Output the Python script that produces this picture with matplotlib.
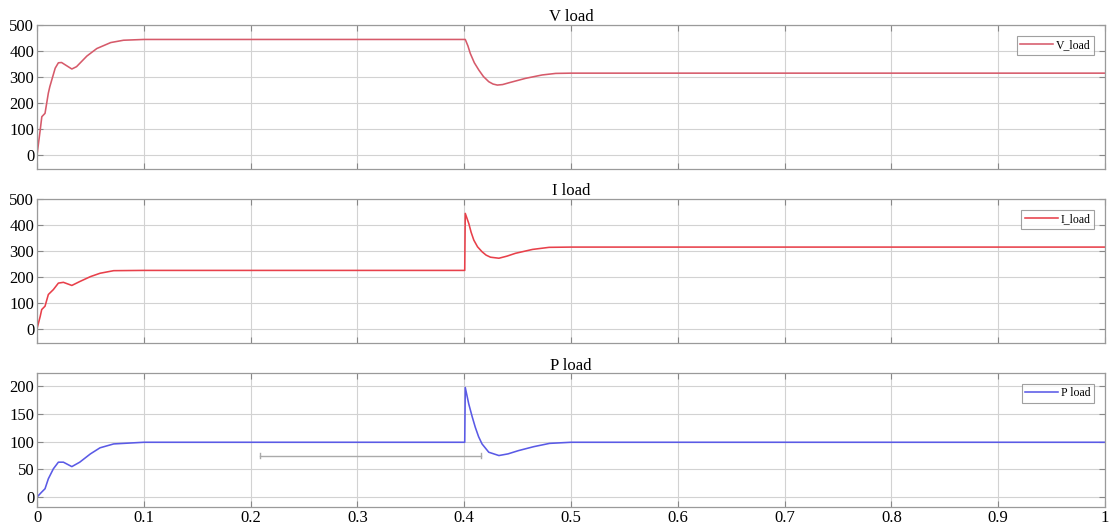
import matplotlib
matplotlib.use("Agg")
import matplotlib.pyplot as plt

# ---- data ----
v_t = [0.0, 0.003, 0.0045, 0.0075, 0.0106, 0.012, 0.017, 0.020, 0.023, 0.028, 0.0326, 0.037,
       0.0467, 0.056, 0.069, 0.081, 0.1, 0.401, 0.4035, 0.4057, 0.4095, 0.4137, 0.418, 0.423,
       0.427, 0.431, 0.436, 0.442, 0.4575, 0.473, 0.4857, 0.5, 1.0]
v_load = [0, 96, 147, 160, 238, 263, 334, 355, 356, 343, 331, 340,
          381, 410, 433, 442, 445, 445, 420, 391, 355, 327, 302, 282,
          273, 269, 271, 278, 295, 308, 314, 315, 315]

i_t = [0.0, 0.003, 0.0044, 0.0075, 0.0106, 0.0153, 0.020, 0.0247, 0.0326, 0.040, 0.050, 0.059,
       0.0718, 0.1, 0.4005, 0.401, 0.4043, 0.4065, 0.409, 0.4125, 0.4167, 0.4205, 0.4246,
       0.4325, 0.440, 0.448, 0.464, 0.4795, 0.5, 1.0]
i_load = [0, 48, 74, 87, 132, 151, 176, 179, 167, 182, 201, 214,
          224, 225, 225, 445, 406, 372, 342, 316, 297, 284, 276,
          272, 280, 291, 306, 314, 315, 315]

p_t = [0.0, 0.0044, 0.0075, 0.0106, 0.0153, 0.020, 0.0247, 0.0326, 0.040, 0.050, 0.059,
       0.0718, 0.1, 0.4005, 0.401, 0.4043, 0.4075, 0.4104, 0.4135, 0.4167, 0.423, 0.4325,
       0.441, 0.451, 0.465, 0.480, 0.5, 1.0]
p_load = [0, 9, 15, 33, 51, 63, 63, 55, 63, 78, 89,
          96, 99, 99, 198, 168, 145, 126, 109, 96, 81, 75,
          78, 84, 91, 97, 99, 99]

cursor_x = [0.209, 0.416]
cursor_y = 75

titles = ["V load", "I load", "P load"]
legend_labels = ["V_load", "I_load", "P load"]
x_ticks = [0, 0.1, 0.2, 0.3, 0.4, 0.5, 0.6, 0.7, 0.8, 0.9, 1.0]
x_tick_labels = ["0", "0.1", "0.2", "0.3", "0.4", "0.5", "0.6", "0.7", "0.8", "0.9", "1"]

plt.rcParams['font.family'] = ['Liberation Serif', 'DejaVu Serif']

fig = plt.figure(figsize=(11.15, 5.25), dpi=100)
L, W = 0.0332, 0.9578
ax1 = fig.add_axes([L, 0.678, W, 0.274])
ax2 = fig.add_axes([L, 0.3467, W, 0.274])
ax3 = fig.add_axes([L, 0.0343, W, 0.255])

series = [(ax1, v_t, v_load, '#d65a6a', (-55, 500), [0, 100, 200, 300, 400, 500]),
          (ax2, i_t, i_load, '#e8404a', (-55, 500), [0, 100, 200, 300, 400, 500]),
          (ax3, p_t, p_load, '#5a5ae6', (-18, 224), [0, 50, 100, 150, 200])]

for k, (ax, t, y, c, yl, yt) in enumerate(series):
    ax.plot(t, y, color=c, lw=1.15, label=legend_labels[k])
    ax.set_xlim(0, 1)
    ax.set_ylim(*yl)
    ax.set_yticks(yt)
    ax.set_xticks(x_ticks)
    if k < 2:
        ax.set_xticklabels([])
    else:
        ax.set_xticklabels(x_tick_labels)
    ax.grid(True, color='#d2d2d2', lw=0.8)
    ax.set_axisbelow(True)
    ax.tick_params(direction='in', top=True, right=True, length=4, color='#888888',
                   labelsize=12, pad=2)
    for s in ax.spines.values():
        s.set_color('#9a9a9a')
        s.set_linewidth(0.9)
    ax.set_title(titles[k], fontsize=12, pad=2)
    leg = ax.legend(loc='upper right', fontsize=8.5, frameon=True, fancybox=False,
                    edgecolor='#888888', handlelength=2.8, handletextpad=0.25,
                    borderpad=0.3, borderaxespad=0.9)
    leg.get_frame().set_linewidth(0.8)

# measurement cursor in P load
ax3.plot(cursor_x, [cursor_y, cursor_y], color='#aaaaaa', lw=1.0)
for cx in cursor_x:
    ax3.plot([cx, cx], [cursor_y - 5, cursor_y + 5], color='#aaaaaa', lw=1.0)

fig.savefig("out.png", dpi=100)
